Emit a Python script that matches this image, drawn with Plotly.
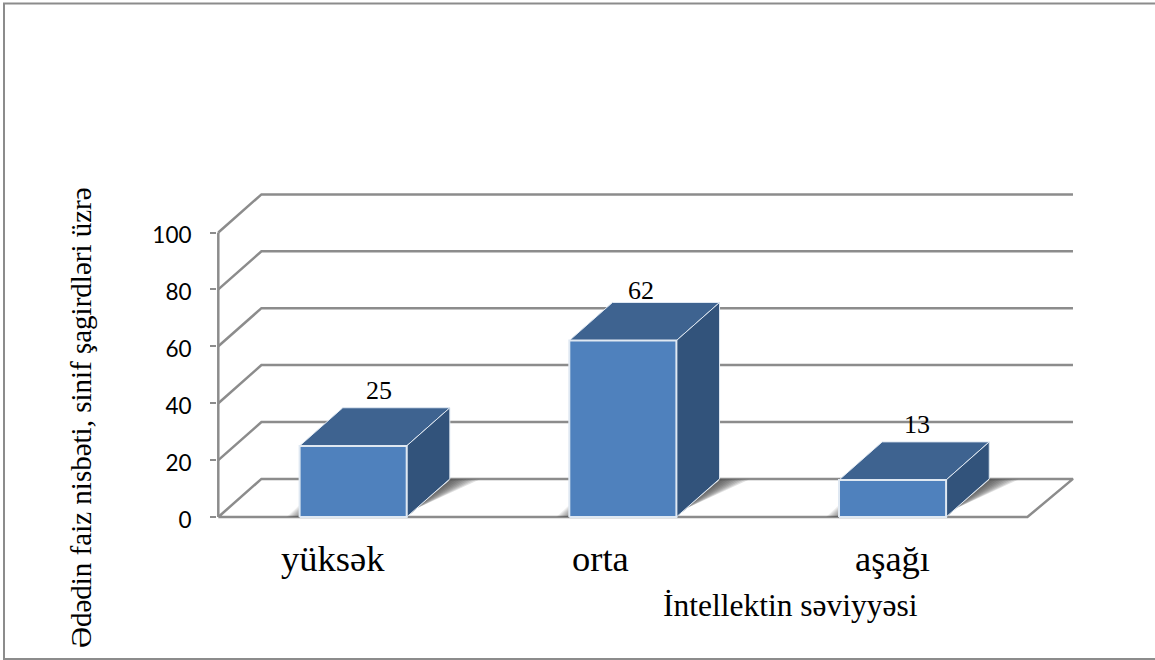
import plotly.graph_objects as go

categories = ["yüksək", "orta", "aşağı"]
values = [25, 62, 13]
value_labels = ["25", "62", "13"]
y_ticks = [0, 20, 40, 60, 80, 100]
y_title = "Ədədin faiz nisbəti, sinif şagirdləri üzrə"
x_title = "İntellektin səviyyəsi"

W, H = 1155, 660
L, R, T, B = 217, 1076, 190, 520   # plot box, a little larger than the walls
SX, SY = 269.7, 2.845              # pixels per category, pixels per percent
X0_PX, Y0_PX = 218.3, 517          # where the front-left-bottom corner sits
DX = 0.16          # depth in category units
DY = 13.4          # depth in value units
BW = 0.397         # bar width in category units
XMIN = -0.5
XFRONT = 2.5
XMAX = 2.669

GRID = "#8c8c8c"
FRONT, TOP, SIDE = "#4f81bd", "#3e6390", "#32537b"
EDGE = "#dfe8f2"

fig = go.Figure()


def poly(xs, ys, fill=None, line=None, width=0):
    fig.add_trace(go.Scatter(
        x=xs, y=ys, mode="lines", hoverinfo="skip", showlegend=False,
        fill="toself" if fill else None, fillcolor=fill,
        line=dict(color=line or "rgba(0,0,0,0)", width=width),
        cliponaxis=False))


# back wall and side wall grid lines
for t in y_ticks[1:]:
    poly([XMIN, XMIN + DX, XMAX], [t, t + DY, t + DY], line=GRID, width=2.5)
# floor
poly([XMIN, XMIN + DX, XMAX, XFRONT, XMIN],
     [0, DY, DY, 0, 0], line=GRID, width=2.5)
# vertical axis
poly([XMIN, XMIN], [0, 100], line=GRID, width=2.5)

for i, v in enumerate(values):
    x0, x1 = i - BW / 2, i + BW / 2
    # soft floor shadows
    for k in range(0, 9):
        f = 1 - k / 9
        r = 0.11 * f
        poly([x1 + 0.004, x1 + DX + 0.002, x1 + DX + r, x1 + 0.004 + 0.012 * f + r * 0.18],
             [0.3, DY - 0.2, DY - 0.2, 1.5 + 1.5 * f],
             fill="rgba(60,60,60,0.15)")
        poly([x0, x0, x0 - 0.048 * f],
             [0, 4.2 * f, 0], fill="rgba(70,70,70,0.09)")
    # top, side, front faces
    poly([x0, x0 + DX, x1 + DX, x1, x0], [v, v + DY, v + DY, v, v],
         fill=TOP, line=EDGE, width=1)
    poly([x1, x1 + DX, x1 + DX, x1, x1], [0, DY, v + DY, v, 0],
         fill=SIDE, line=EDGE, width=1)
    poly([x0, x1, x1, x0, x0], [0, 0, v, v, 0],
         fill=FRONT, line=EDGE, width=2)


def fx(px):
    return (px - L) / (R - L)


def fy(py):
    return (B - py) / (B - T)


annotations = []
cat_shift = [-20, -22, 0]
for i, c in enumerate(categories):
    annotations.append(dict(
        x=i, y=0, xref="x", yref="y", text=c, showarrow=False,
        xanchor="center", yanchor="middle", xshift=cat_shift[i], yshift=-41,
        font=dict(family="Liberation Serif", size=36.5, color="#000")))
lab_dx = [26, 18, 24]
lab_dy = [-0.3, -6, -0.2]
for i, (v, s) in enumerate(zip(values, value_labels)):
    annotations.append(dict(
        x=i, y=v + DY, xref="x", yref="y", text=s, showarrow=False,
        xanchor="center", yanchor="middle", xshift=lab_dx[i],
        yshift=18 + lab_dy[i],
        font=dict(family="Liberation Serif", size=26, color="#000")))
annotations.append(dict(
    x=fx(790), y=fy(605), xref="paper", yref="paper",
    text=x_title, showarrow=False, xanchor="center", yanchor="middle",
    font=dict(family="Liberation Serif", size=31.5, color="#000")))
annotations.append(dict(
    x=fx(81), y=fy(418), xref="paper", yref="paper",
    text=y_title, showarrow=False, textangle=-90,
    xanchor="center", yanchor="middle",
    font=dict(family="Liberation Serif", size=29, color="#000")))

frame = (f"M {fx(1155)} {fy(3.5)} L {fx(4)} {fy(3.5)} "
         f"L {fx(4)} {fy(659)} L {fx(1155)} {fy(659)}")

fig.update_layout(
    width=W, height=H,
    margin=dict(l=L, r=W - R, t=T, b=H - B, pad=0, autoexpand=False),
    paper_bgcolor="white", plot_bgcolor="rgba(0,0,0,0)",
    showlegend=False,
    xaxis=dict(range=[XMIN + (L - X0_PX) / SX, XMIN + (R - X0_PX) / SX],
               visible=False, fixedrange=True),
    yaxis=dict(range=[(Y0_PX - B) / SY, (Y0_PX - T) / SY], tickvals=y_ticks,
               showgrid=False, zeroline=False, showline=False, ticks="outside",
               ticklen=6, tickwidth=2, tickcolor=GRID, ticklabelstandoff=14,
               ticklabelshift=3, fixedrange=True,
               tickfont=dict(family="Lato", size=22.5, color="#000")),
    annotations=annotations,
    shapes=[dict(type="path", xref="paper", yref="paper", path=frame,
                 line=dict(color="#8c8c8c", width=2), layer="below")],
)

fig.write_html("out.html", config=dict(displayModeBar=False),
               post_script="document.body.style.margin='0';")
